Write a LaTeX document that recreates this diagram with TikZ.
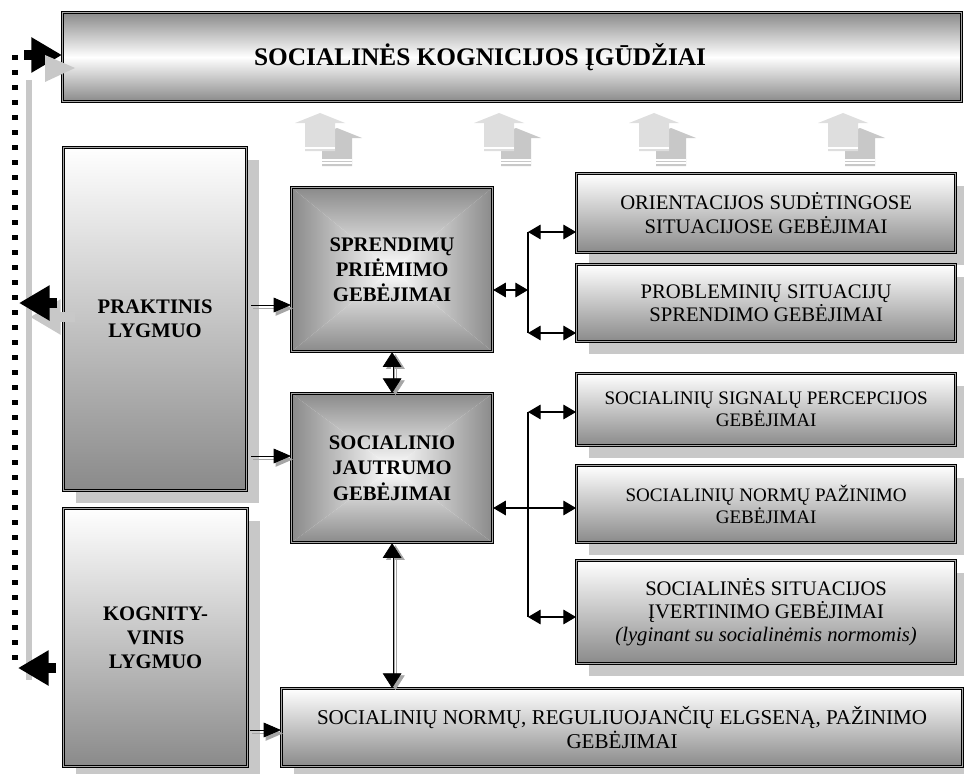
\documentclass[tikz,border=0pt]{standalone}
\usepackage{fontspec}
\setmainfont{Liberation Serif}
\usetikzlibrary{arrows.meta,shadows,calc}
\definecolor{edgegray}{HTML}{8A8A8A}
\definecolor{shadowgray}{HTML}{C8C8C8}
\definecolor{upgray}{HTML}{DEDEDE}
\newcommand{\upgrayarrow}[1]{%
  \fill[shadowgray] ({#1+2},166) -- ({#1+2},138) -- ({#1-8},138) -- ({#1+17},128) -- ({#1+42},138) -- ({#1+32},138) -- ({#1+32},166) -- cycle;
  \fill[upgray] ({#1-15},151) -- ({#1-15},123) -- ({#1-25},123) -- (#1,113) -- ({#1+25},123) -- ({#1+15},123) -- ({#1+15},151) -- cycle;
  \draw[white,line width=0.8pt] ({#1-15},148) -- ({#1+15},148);
  \draw[white,line width=0.8pt] ({#1+2},160) -- ({#1+32},160) ({#1+2},163) -- ({#1+32},163);
}
\begin{document}
\begin{tikzpicture}[x=0.75pt,y=-0.75pt,
  wh/.style 2 args={minimum width=#1*0.75pt, minimum height=#2*0.75pt},
  boxframe/.style={draw=black, line width=0.9pt, double=gray!70, double distance=0.6pt, inner sep=0pt, anchor=north west, align=center},
  vshade/.style={top color=white, bottom color=edgegray},
  sh/.style={drop shadow={shadow xshift=9pt, shadow yshift=-9pt, fill=shadowgray, opacity=1}},
  rectshade/.style={path picture={
    \path (path picture bounding box.south west) coordinate (pA)
          (path picture bounding box.north east) coordinate (pC)
          (path picture bounding box.center) coordinate (pM);
    \begin{scope}
      \clip (pA) -- (pA -| pC) -- (pM) -- cycle;
      \shade[bottom color=edgegray, top color=white] (pA) rectangle (pM -| pC);
    \end{scope}
    \begin{scope}
      \clip (pA |- pC) -- (pC) -- (pM) -- cycle;
      \shade[top color=edgegray, bottom color=white] (pA |- pM) rectangle (pC);
    \end{scope}
    \begin{scope}
      \clip (pA) -- (pA |- pC) -- (pM) -- cycle;
      \shade[left color=edgegray, right color=white] (pA) rectangle (pM |- pC);
    \end{scope}
    \begin{scope}
      \clip (pA -| pC) -- (pC) -- (pM) -- cycle;
      \shade[left color=white, right color=edgegray] (pM |- pA) rectangle (pC);
    \end{scope}
  }},
  boldlbl/.style={font=\fontsize{15.5}{18}\selectfont\bfseries},
  reglbl/.style={font=\fontsize{15.5}{17.5}\selectfont},
  smalllbl/.style={font=\fontsize{14.3}{16.5}\selectfont},
  dbl/.style={line width=0.8pt, {Triangle[length=9.5pt,width=11pt]}-{Triangle[length=9.5pt,width=11pt]}},
  vdbl/.style={draw=black, line width=0.5pt, double=white, double distance=1.2pt, {Triangle[length=11pt,width=14pt]}-{Triangle[length=11pt,width=14pt]}},
  vdblsh/.style={draw=gray!70, line width=0.5pt, double=white, double distance=1.2pt, {Triangle[length=11pt,width=14pt]}-{Triangle[length=11pt,width=14pt]}},
  inarrow/.style={draw=black, line width=0.7pt, -{Triangle[length=13pt,width=11pt]}},
  inarrowsh/.style={draw=gray!70, line width=0.9pt, -{Triangle[length=13pt,width=11pt]}},
  bigarrow/.style={line width=8pt, -{Triangle[length=23pt,width=25pt]}},
  dotline/.style={line width=4.5pt, dash pattern=on 3.75pt off 7.5pt}
]
\useasboundingbox (0,0) rectangle (964,774);

% gray upward arrows
\upgrayarrow{320}
\upgrayarrow{499}
\upgrayarrow{654}
\upgrayarrow{843}

% boxes
\node[boxframe, wh={899}{89}, top color=edgegray, bottom color=edgegray, middle color=white,
      font=\fontsize{19}{22}\selectfont\bfseries] (top) at (62,12)
      {SOCIALINĖS KOGNICIJOS ĮGŪDŽIAI\hspace*{48pt}};

\node[boxframe, sh, vshade, wh={183}{343}, boldlbl] (prak) at (63,147) {PRAKTINIS\\LYGMUO};
\node[boxframe, sh, vshade, wh={184}{258}, boldlbl] (kog) at (63,508) {KOGNITY-\\VINIS\\LYGMUO};

\node[boxframe, rectshade, wh={201}{164}, font=\fontsize{15.5}{19}\selectfont\bfseries] (spr) at (291,187) {SPRENDIMŲ\\PRIĖMIMO\\GEBĖJIMAI};
\node[boxframe, rectshade, wh={201}{149}, font=\fontsize{15.5}{19}\selectfont\bfseries] (soc) at (291,393) {SOCIALINIO\\JAUTRUMO\\GEBĖJIMAI};

\node[boxframe, sh, vshade, wh={379}{79}, reglbl] (ori) at (576,173) {ORIENTACIJOS SUDĖTINGOSE\\SITUACIJOSE GEBĖJIMAI};
\node[boxframe, sh, vshade, wh={379}{77}, reglbl] (pro) at (576,264) {PROBLEMINIŲ SITUACIJŲ\\SPRENDIMO GEBĖJIMAI};
\node[boxframe, sh, vshade, wh={379}{72}, smalllbl] (sig) at (576,373) {SOCIALINIŲ SIGNALŲ PERCEPCIJOS\\GEBĖJIMAI};
\node[boxframe, sh, vshade, wh={379}{77}, smalllbl] (nor) at (576,465) {SOCIALINIŲ NORMŲ PAŽINIMO\\GEBĖJIMAI};
\node[boxframe, sh, vshade, wh={379}{103}, reglbl] (sit) at (576,560) {SOCIALINĖS SITUACIJOS\\ĮVERTINIMO GEBĖJIMAI\\\textit{(lyginant su socialinėmis normomis)}};
\node[boxframe, sh, vshade, wh={681}{78}, font=\fontsize{15.8}{18.5}\selectfont] (bot) at (281,688) {SOCIALINIŲ NORMŲ, REGULIUOJANČIŲ ELGSENĄ, PAŽINIMO\\GEBĖJIMAI};

% dotted feedback line
\coordinate (dtop) at (15,55);
\coordinate (dbot) at (15,668);
\fill[shadowgray] (26,80) rectangle (32,680);
\draw[dotline] (dtop) -- (dbot);

% arrow into top box
\coordinate (dtopA) at (24,55);
\draw[bigarrow] (dtopA) -- (top.west |- dtopA);
\fill[shadowgray] (45,55) -- (75,68) -- (45,82) -- cycle;

% arrow from praktinis to dotted line
\coordinate (pshA) at (75,317);
\coordinate (pshB) at (30,317);
\draw[bigarrow, shadowgray] (pshA) -- (pshB);
\coordinate (pA1) at (57,303);
\coordinate (pA2) at (19,303);
\draw[bigarrow] (pA1) -- (pA2);

% arrow from kognityvinis to dotted line
\coordinate (kA1) at (56,668);
\coordinate (kA2) at (18,668);
\draw[bigarrow] (kA1) -- (kA2);

% input arrows
\draw[inarrowsh, transform canvas={shift={(1.5pt,-2.5pt)}}] (prak.east |- 0,305) ++(4,0) -- (spr.west |- 0,305);
\draw[inarrow] (prak.east |- 0,305) ++(4,0) -- (spr.west |- 0,305);
\draw[inarrowsh, transform canvas={shift={(1.5pt,-2.5pt)}}] (prak.east |- 0,456) ++(4,0) -- (soc.west |- 0,456);
\draw[inarrow] (prak.east |- 0,456) ++(4,0) -- (soc.west |- 0,456);
\draw[inarrowsh, transform canvas={shift={(1.5pt,-2.5pt)}}] (kog.east |- 0,730) ++(2,0) -- (bot.west |- 0,730);
\draw[inarrow] (kog.east |- 0,730) ++(2,0) -- (bot.west |- 0,730);

% vertical double connectors
\draw[vdblsh, transform canvas={shift={(2.5pt,-1.5pt)}}] (spr.south) -- (soc.north);
\draw[vdbl] (spr.south) -- (soc.north);
\draw[vdblsh, transform canvas={shift={(2.5pt,-1.5pt)}}] (soc.south) -- (bot.north -| soc.south);
\draw[vdbl] (soc.south) -- (bot.north -| soc.south);

% branch from sprendimu
\coordinate (b1) at (528,290);
\coordinate (b1t) at (528,232);
\coordinate (b1b) at (528,333);
\draw[dbl] (spr.east |- b1) -- (b1);
\draw[line width=0.8pt] (b1t) -- (b1b);
\draw[dbl] (b1t) -- (ori.west |- b1t);
\draw[dbl] (b1b) -- (pro.west |- b1b);

% branch from socialinio
\coordinate (b2) at (528,508);
\coordinate (b2t) at (528,412);
\coordinate (b2b) at (528,617);
\draw[line width=0.8pt] (b2t) -- (b2b);
\draw[dbl] (soc.east |- b2) -- (nor.west |- b2);
\draw[dbl] (b2t) -- (sig.west |- b2t);
\draw[dbl] (b2b) -- (sit.west |- b2b);
\end{tikzpicture}
\end{document}
